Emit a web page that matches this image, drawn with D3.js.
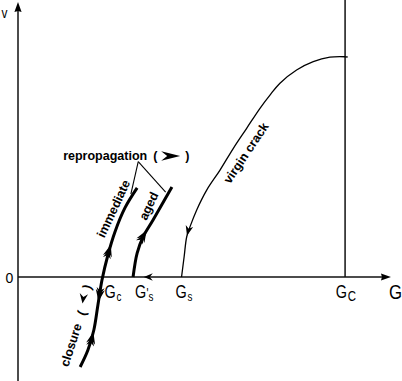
<!DOCTYPE html>
<html><head><meta charset="utf-8">
<script src="https://cdn.jsdelivr.net/npm/d3@7"></script>
<style>
body{margin:0;background:#fff}
svg{display:block}
text{font-family:"Liberation Sans",Arial,Helvetica,sans-serif;fill:#000}
</style>
</head><body>
<svg id="c" width="402" height="381"></svg>
<script>
// ---- data (G horizontal, v vertical, arbitrary schematic units) ----
const virginCrack = [[89.1,100],[88.4,100.1],[84.3,99.9],[79.8,97.9],[75.3,94.1],[70.8,88.1],[68.1,82.7],[65.4,76.7],[61.8,67.6],[58.2,58.5],[54.6,48.6],[51.0,39.5],[48.3,30.5],[46.5,22.9],[45.6,18.3],[44.9,9.2],[44.2,0]];
const immediateClosure = [[32.2,40.5],[28.9,31.4],[26.2,20.5],[24.3,10.0],[22.7,-1.4],[21.6,-12.7],[20.5,-24.1],[18.9,-33.2],[16.8,-40.9]];
const agedCurve = [[31.1,0],[32.2,10.9],[33.8,18.2],[36.5,25.9],[41.6,40.9]];
const criticalG = 88.4;
const axisG = [0, 100.8];
const axisV = [-47.3, 125];
const tickLabels = [
  {G:23.4, main:"G", sub:"c"},
  {G:31.6, main:"G", sub:"s", prime:true},
  {G:42.6, main:"G", sub:"s"},
  {G:85.9, main:"G", sub:"C"}
];
// arrows on curves: [curve, G, v, direction(+1 along point order, -1 reverse)]
const curveArrows = [
  ["virgin", 45.8, 18.8, 1],
  ["aged", 34.6, 21.5, 1],
  ["closure", 25.3, 14.5, -1],
  ["closure", 21.7, -11.0, 1],
  ["closure", 20.2, -25.0, -1]
];
const axisArrowG = 34.0; // leftward arrow on G axis
const leaders = [[[32.5,52.4],[30.5,37.7]],[[32.5,52.4],[39.9,38.6]]];

// ---- scales ----
const x = d3.scaleLinear().domain([0,100]).range([18,388]);
const y = d3.scaleLinear().domain([0,100]).range([277,57]);
const svg = d3.select("#c");

const line = d3.line().x(d=>x(d[0])).y(d=>y(d[1])).curve(d3.curveCatmullRom.alpha(0.5));
const barb = (L,W,N)=>`M0,0L${-L},${-W}L${-L+N},0L${-L},${W}Z`;

// axes
svg.append("line").attr("x1",x(axisG[0])).attr("x2",x(axisG[1])-6).attr("y1",y(0)).attr("y2",y(0))
  .attr("stroke","#111").attr("stroke-width",1.5);
svg.append("line").attr("x1",x(0)).attr("x2",x(0)).attr("y1",y(axisV[0])).attr("y2",y(axisV[1])+6)
  .attr("stroke","#111").attr("stroke-width",1.5);
svg.append("path").attr("d",barb(10,3.6,1)).attr("transform",`translate(${x(axisG[1])},${y(0)})`).attr("fill","#000");
svg.append("path").attr("d",barb(10,3.6,1)).attr("transform",`translate(${x(0)},${y(axisV[1])}) rotate(-90)`).attr("fill","#000");
// G_C vertical
svg.append("line").attr("x1",x(criticalG)).attr("x2",x(criticalG)).attr("y1",y(0)).attr("y2",0)
  .attr("stroke","#111").attr("stroke-width",1.5);

// curves
const paths = {};
paths.virgin = svg.append("path").datum(virginCrack).attr("d",line).attr("fill","none").attr("stroke","#000").attr("stroke-width",1.3);
paths.closure = svg.append("path").datum(immediateClosure).attr("d",line).attr("fill","none").attr("stroke","#000").attr("stroke-width",3);
paths.aged = svg.append("path").datum(agedCurve).attr("d",line).attr("fill","none").attr("stroke","#000").attr("stroke-width",3);

function placeArrow(name,G,v,dir){
  const node = paths[name].node();
  const tot = node.getTotalLength();
  const tx=x(G), ty=y(v);
  let best=0,bd=1e9;
  for(let l=0;l<=tot;l+=0.5){const p=node.getPointAtLength(l);const d=(p.x-tx)**2+(p.y-ty)**2;if(d<bd){bd=d;best=l;}}
  const p=node.getPointAtLength(best);
  const a=node.getPointAtLength(Math.max(0,best-2)), b=node.getPointAtLength(Math.min(tot,best+2));
  let ang=Math.atan2(b.y-a.y,b.x-a.x)*180/Math.PI; if(dir<0) ang+=180;
  const big = name!=="virgin";
  svg.append("path").attr("d", big?barb(12,4.6,4):barb(10,3.8,3))
    .attr("transform",`translate(${p.x},${p.y}) rotate(${ang})`).attr("fill","#000");
  if(big) svg.append("path").attr("d",barb(9,4,3)).attr("transform",`translate(${p.x},${p.y}) rotate(${ang}) translate(-5,0)`).attr("fill","#000");
}
curveArrows.forEach(a=>placeArrow(...a));
svg.append("path").attr("d",barb(9,3.8,3)).attr("transform",`translate(${x(axisArrowG)},${y(0)}) rotate(180)`).attr("fill","#000");

// leader lines
leaders.forEach(l=>svg.append("line").attr("x1",x(l[0][0])).attr("y1",y(l[0][1])).attr("x2",x(l[1][0])).attr("y2",y(l[1][1]))
  .attr("stroke","#000").attr("stroke-width",1.1));

// axis labels
svg.append("text").attr("transform",`translate(1.5,17.5) scale(0.85,1)`).attr("font-size",14).text("v");
svg.append("text").attr("x",5.5).attr("y",283).attr("font-size",14).text("0");
svg.append("text").attr("transform",`translate(${x(axisG[1])-2},298.5) scale(0.8,1)`).attr("font-size",21).text("G");

// tick labels (single text element each, with tspans)
tickLabels.forEach(t=>{
  const tx = svg.append("text").attr("transform",`translate(${x(t.G)},298) scale(0.76,1)`).attr("font-size",19);
  tx.append("tspan").text(t.main);
  if(t.prime){
    tx.append("tspan").attr("dx",0.3).attr("dy",-0.5).attr("font-size",14).text("'");
    tx.append("tspan").attr("dx",0).attr("dy",3).attr("font-size",13).text(t.sub);
  } else {
    tx.append("tspan").attr("dx",1).attr("dy",2.5).attr("font-size",t.sub==="C"?15:13).text(t.sub);
  }
});

// annotation texts
function rotText(str,G,v,ang){
  svg.append("text").attr("transform",`translate(${x(G)},${y(v)}) rotate(${ang})`)
    .attr("text-anchor","middle").attr("dy","0.35em").attr("font-weight","bold").attr("font-size",12.5).text(str);
}
rotText("virgin crack",61.6,56.4,-56);
rotText("immediate",25.8,31.1,-65);
rotText("aged",35.3,32.3,-65);
rotText("closure",14.3,-30.9,-72);

// repropagation ( > )
const rp = svg.append("text").attr("x",x(12.2)).attr("y",159.5).attr("font-weight","bold").attr("font-size",12.5).text("repropagation");
const rx = x(12.2)+rp.node().getComputedTextLength();
svg.append("text").attr("x",rx+6).attr("y",159.5).attr("font-weight","bold").attr("font-size",12.5).text("(");
svg.append("path").attr("d",barb(19,4.8,6)).attr("transform",`translate(${rx+33},156)`).attr("fill","#000");
svg.append("text").attr("x",rx+38).attr("y",159.5).attr("font-weight","bold").attr("font-size",12.5).text(")");

// closure ( v )
function rotChar(ch,px,py,ang){
  svg.append("text").attr("transform",`translate(${px},${py}) rotate(${ang})`).attr("text-anchor","middle")
    .attr("dy","0.35em").attr("font-weight","bold").attr("font-size",12.5).text(ch);
}
rotChar("(",81.5,313,-72);
rotChar(")",87,287,-72);
svg.append("path").attr("d",barb(10,4.2,3.5)).attr("transform",`translate(82.5,303.5) rotate(98)`).attr("fill","#000");
</script>
</body></html>
